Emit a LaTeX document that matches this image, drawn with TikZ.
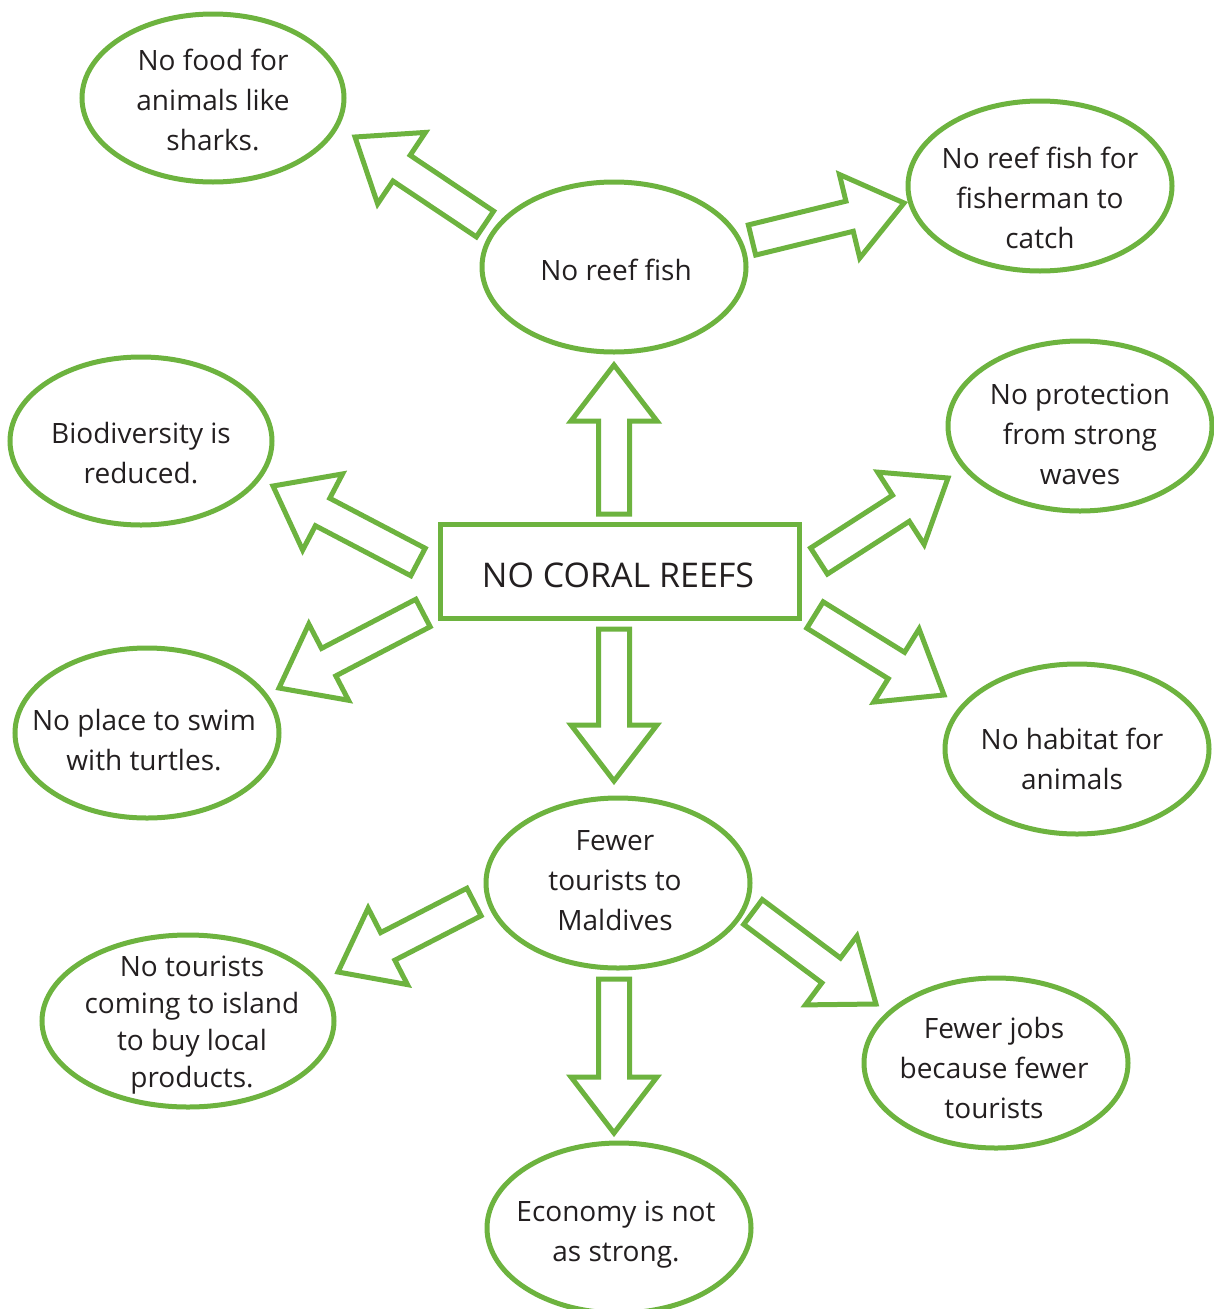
\documentclass[tikz,border=0pt]{standalone}
\usepackage{fontspec}
\setmainfont{Open Sans}
\usetikzlibrary{calc,shapes.geometric}
\definecolor{grn}{RGB}{109,179,63}
\definecolor{ink}{RGB}{35,31,32}
\tikzset{
  bub/.style={draw=grn, line width=5pt, ellipse, inner sep=0pt, minimum width=264pt, minimum height=170pt},
  txt/.style={align=center, text=ink, font=\fontsize{28}{40}\selectfont},
  blk/.style={draw=grn, line width=5pt, line join=miter, fill=white}
}
\newcommand\blockarrow[2]{%
  \coordinate (h#1) at ($(#2)!56pt!(#1)$);
  \draw[blk] ($(#1)!15.5pt!90:(#2)$) -- ($(h#1)!15.5pt!-90:(#1)$) -- ($(h#1)!43pt!-90:(#1)$) -- (#2)
    -- ($(h#1)!43pt!90:(#1)$) -- ($(h#1)!15.5pt!90:(#1)$) -- ($(#1)!15.5pt!-90:(#2)$) -- cycle;
}
\begin{document}
\begin{tikzpicture}[x=1pt,y=-1pt]
\useasboundingbox (0,0) rectangle (1214,1309);
% bubbles
\node[bub, minimum width=262pt, minimum height=168pt] (food) at (213,98) {};
\node[bub] (reef) at (614,267) {};
\node[bub] (fisher) at (1040,186) {};
\node[bub, minimum width=262pt, minimum height=168pt] (bio) at (141,441) {};
\node[bub] (prot) at (1080,426) {};
\node[bub] (swim) at (147,733) {};
\node[bub] (habitat) at (1077,749) {};
\node[bub] (fewer) at (618,883) {};
\node[bub, minimum width=292pt, minimum height=172pt] (island) at (188,1021) {};
\node[bub] (jobs) at (996,1063) {};
\node[bub] (econ) at (619,1228) {};
\node[draw=grn, line width=5pt, minimum width=359pt, minimum height=94pt, inner sep=0pt] (core) at (620,571) {};
% texts
\node[txt] at (213,100) {No food for\\animals like\\sharks.};
\node[txt] at (616,270) {No reef fish};
\node[txt] at (1040,198) {No reef fish for\\fisherman to\\catch};
\node[txt] at (141,453) {Biodiversity is\\reduced.};
\node[txt] at (1080,434) {No protection\\from strong\\waves};
\node[txt] at (144,740) {No place to swim\\with turtles.};
\node[txt] at (1072,759) {No habitat for\\animals};
\node[txt] at (615,881) {Fewer\\tourists to\\Maldives};
\node[txt, font=\fontsize{28}{37}\selectfont] at (192,1025) {No tourists\\coming to island\\to buy local\\products.};
\node[txt] at (994,1068) {Fewer jobs\\because fewer\\tourists};
\node[txt] at (616,1235) {Economy is not\\as strong.};
\node[txt, font=\fontsize{34}{40}\selectfont] at (618,575) {NO CORAL REEFS};
% arrow end points
\coordinate (aUt) at (614,514);  \coordinate (aUh) at (614,365);
\coordinate (aDt) at (614,629);  \coordinate (aDh) at (614,781);
\coordinate (aEt) at (614,979);  \coordinate (aEh) at (614,1133);
\coordinate (aFt) at (485,224);  \coordinate (aFh) at (355,137);
\coordinate (aKt) at (752,240);  \coordinate (aKh) at (904,203);
\coordinate (aBt) at (418,562);  \coordinate (aBh) at (273,486);
\coordinate (aPt) at (819,561);  \coordinate (aPh) at (948,478);
\coordinate (aSt) at (423,613);  \coordinate (aSh) at (279,688);
\coordinate (aHt) at (815,615);  \coordinate (aHh) at (944,695);
\coordinate (aIt) at (474,902);  \coordinate (aIh) at (338,972);
\coordinate (aJt) at (753,912);  \coordinate (aJh) at (876,1004);
\blockarrow{aUt}{aUh}
\blockarrow{aDt}{aDh}
\blockarrow{aEt}{aEh}
\blockarrow{aFt}{aFh}
\blockarrow{aKt}{aKh}
\blockarrow{aBt}{aBh}
\blockarrow{aPt}{aPh}
\blockarrow{aSt}{aSh}
\blockarrow{aHt}{aHh}
\blockarrow{aIt}{aIh}
\blockarrow{aJt}{aJh}
\end{tikzpicture}
\end{document}
